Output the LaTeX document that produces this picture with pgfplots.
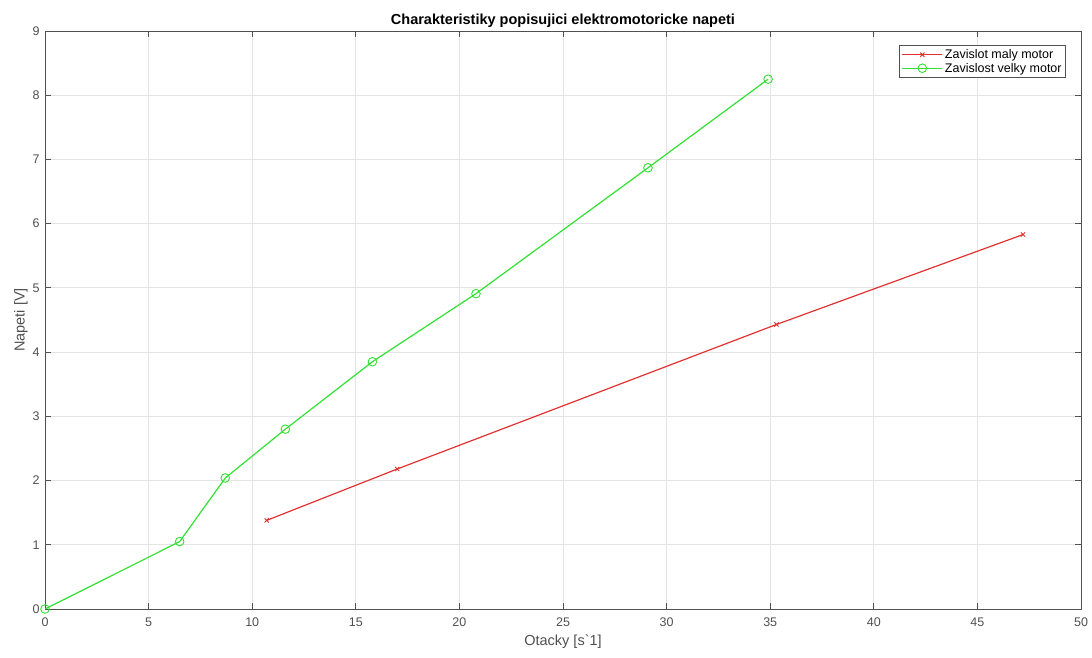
\documentclass[border=0pt]{standalone}
\usepackage{pgfplots}
\pgfplotsset{compat=1.18}
\usepackage{fontspec}
\setmainfont{Liberation Sans}
\definecolor{axgray}{RGB}{80,80,80}
\definecolor{gridgray}{RGB}{228,228,228}
\definecolor{myred}{RGB}{225,50,50}
\definecolor{mygreen}{RGB}{50,225,50}
\begin{document}
\begin{tikzpicture}[x=1pt,y=1pt]
\useasboundingbox (-45pt,-49pt) rectangle (1047pt,609pt);
\begin{axis}[
  at={(0pt,0pt)}, anchor=south west,
  scale only axis, width=1036pt, height=578pt,
  xmin=0, xmax=50, ymin=0, ymax=9,
  xtick={0,5,...,50}, ytick={0,1,...,9},
  grid=major, major grid style={gridgray, line width=0.8pt},
  axis line style={axgray, line width=0.8pt},
  tick style={axgray, line width=0.8pt},
  tick align=inside, major tick length=6pt,
  ticklabel style={font=\fontsize{12.5}{14}\selectfont, text=axgray},
  xticklabel style={yshift=-5pt},
  yticklabel style={xshift=-2pt},
  /pgf/number format/assume math mode=true,
  xlabel={Otacky [s\textasciigrave 1]}, ylabel={Napeti [V]},
  label style={font=\fontsize{14.5}{16}\selectfont, text=axgray},
  xlabel style={yshift=-2pt},
  ylabel style={yshift=-2pt},
  title={Charakteristiky popisujici elektromotoricke napeti},
  title style={font=\bfseries\fontsize{14.5}{16}\selectfont, yshift=-6pt},
  legend style={at={(1,1)}, anchor=north east, xshift=-15pt, yshift=-14pt,
    font=\fontsize{12.5}{14}\selectfont, draw=axgray, line width=0.8pt,
    inner xsep=2pt, inner ysep=2pt, row sep=-1pt},
  legend cell align=left,
  legend image code/.code={\draw[#1] (0pt,0pt) -- (40pt,0pt); \draw[#1, only marks] plot coordinates {(20pt,0pt)};},
]
\addplot[myred, line width=1.2pt, mark=x, mark size=3pt, mark options={solid, line width=0.9pt}] coordinates {
 (10.7,1.38) (17.0,2.18) (35.3,4.43) (47.2,5.83)
};
\addlegendentry{Zavislot maly motor}
\addplot[mygreen, line width=1.2pt, mark=o, mark size=4.3pt, mark options={solid, line width=0.9pt}] coordinates {
 (0,0) (6.5,1.05) (8.7,2.04) (11.6,2.80) (15.8,3.85) (20.8,4.91) (29.1,6.87) (34.9,8.25)
};
\addlegendentry{Zavislost velky motor}
\end{axis}
\end{tikzpicture}
\end{document}
